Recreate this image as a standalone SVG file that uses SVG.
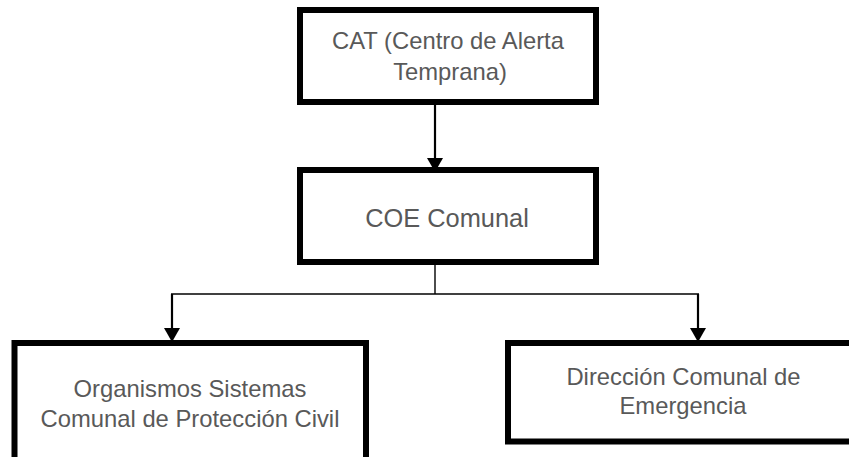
<svg xmlns="http://www.w3.org/2000/svg" width="849" height="457" viewBox="0 0 849 457">
<style>
.box{fill:#fff;stroke:#000;stroke-width:6}
.t{font-family:"Liberation Sans",Arial,sans-serif;font-size:23.8px;fill:#595959;text-anchor:middle}
.thin{stroke:#000;stroke-width:1.4;fill:none}
.arr{stroke:#000;stroke-width:2.2;fill:none;marker-end:url(#ah)}
</style>
<defs>
<marker id="ah" markerUnits="userSpaceOnUse" viewBox="0 0 14 16" refX="14" refY="8" markerWidth="14" markerHeight="16" orient="auto">
<path d="M0,0 L14,8 L0,16 z" fill="#000"/>
</marker>
</defs>
<rect width="849" height="457" fill="#fff"/>
<g id="node-cat">
<rect class="box" x="300" y="10" width="296" height="92"/>
<text class="t" x="448" y="49">CAT (Centro de Alerta</text>
<text class="t" x="450" y="80">Temprana)</text>
</g>
<g id="node-coe">
<rect class="box" x="300" y="170" width="296" height="92"/>
<text class="t" x="447" y="227" style="font-size:25.4px">COE Comunal</text>
</g>
<g id="node-organismos">
<rect class="box" x="14.5" y="343" width="351.5" height="130"/>
<text class="t" x="190" y="397">Organismos Sistemas</text>
<text class="t" x="190" y="427">Comunal de Protección Civil</text>
</g>
<g id="node-direccion">
<rect class="box" x="508" y="343" width="352" height="98.5"/>
<text class="t" x="683.5" y="385">Dirección Comunal de</text>
<text class="t" x="683" y="414">Emergencia</text>
</g>
<g id="connectors">
<line class="arr" x1="435" y1="102" x2="435" y2="172"/>
<line class="thin" x1="435" y1="265" x2="435" y2="294"/>
<line class="thin" x1="171" y1="294" x2="699" y2="294"/>
<line class="arr" x1="172" y1="294" x2="172" y2="342"/>
<line class="arr" x1="698" y1="294" x2="698" y2="342"/>
</g>
</svg>
